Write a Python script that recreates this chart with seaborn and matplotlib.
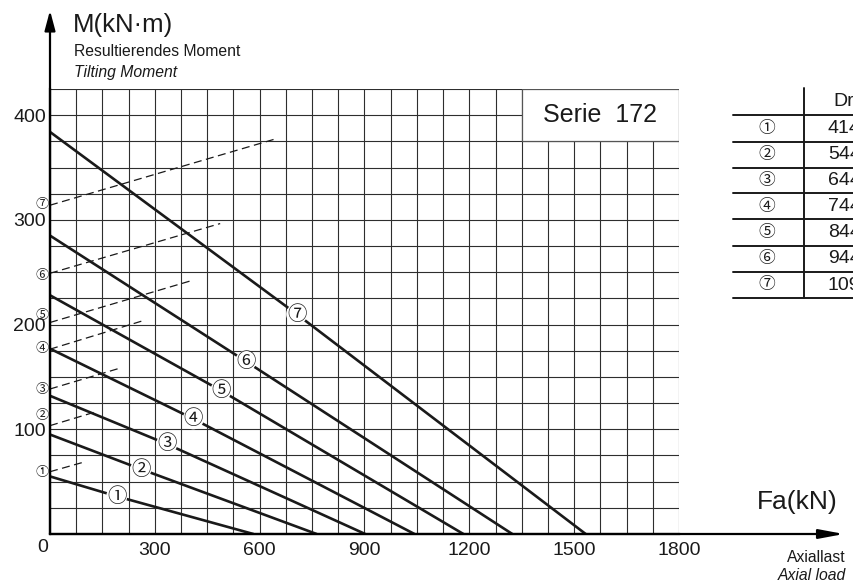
import numpy as np
import pandas as pd
import seaborn as sns
import matplotlib.pyplot as plt
from matplotlib.patches import Rectangle
from matplotlib.lines import Line2D

# ---------------- data ----------------
labels = ['①', '②', '③', '④', '⑤', '⑥', '⑦']
curve_start_y = [55, 95, 132, 177, 228, 285, 384]
curve_mid_x = [191, 260, 334, 410, 489, 560, 706]
curve_mid_y = [36, 62, 86, 110, 137, 165, 210]
curve_end_x = [582, 763, 902, 1043, 1183, 1323, 1533]
dash_start_y = [59.5, 103.5, 138.5, 176.5, 202, 249, 314]
dash_end_x = [95, 134, 196, 269, 410, 487, 647]
dash_end_y = [68.5, 117, 158, 204, 242.5, 296.5, 377.5]
left_label_y = [59, 113, 138, 177, 209, 247, 315]
x_ticks = [300, 600, 900, 1200, 1500, 1800]
y_ticks = [100, 200, 300, 400]
table_header = 'Dr'
table_values = ['414', '544', '644', '744', '844', '944', '1094']

rows = []
for i, lab in enumerate(labels):
    rows.append((lab, 0, curve_start_y[i]))
    rows.append((lab, curve_mid_x[i], curve_mid_y[i]))
    rows.append((lab, curve_end_x[i], 0))
curves = pd.DataFrame(rows, columns=['series', 'x', 'y'])

drows = []
for i, lab in enumerate(labels):
    drows.append((lab, 0, dash_start_y[i]))
    drows.append((lab, dash_end_x[i], dash_end_y[i]))
dashes = pd.DataFrame(drows, columns=['series', 'x', 'y'])

# ---------------- style ----------------
sns.set_style('white')
plt.rcParams['font.family'] = ['Liberation Sans', 'DejaVu Sans', 'Noto Sans CJK JP']
CIRC = ['Noto Sans CJK JP', 'DejaVu Sans']
INK = '#1a1a1a'
GRID = '#2e2e2e'

W, H = 854, 584
fig = plt.figure(figsize=(W / 100, H / 100), dpi=100)
ax = fig.add_axes([50 / W, 50 / H, 629 / W, 445 / H])
ax.set_xlim(0, 1800)
ax.set_ylim(0, 425)

# grid
ax.set_xticks(np.arange(0, 1801, 75), minor=True)
ax.set_yticks(np.arange(0, 426, 25), minor=True)
ax.set_xticks(x_ticks)
ax.set_xticklabels([str(v) for v in x_ticks], fontsize=14, color=INK)
ax.set_yticks(y_ticks)
ax.set_yticklabels([str(v) for v in y_ticks], fontsize=14, color=INK,
                   va='center_baseline')
ax.tick_params(which='both', length=0)
ax.tick_params(axis='x', pad=6)
ax.tick_params(axis='y', pad=3)
ax.grid(which='both', color=GRID, linewidth=0.8)
ax.set_axisbelow(True)
for s in ['top', 'right']:
    ax.spines[s].set_visible(False)
for s in ['left', 'bottom']:
    ax.spines[s].set_linewidth(1.6)
    ax.spines[s].set_color('black')
    ax.spines[s].set_zorder(5)

# Serie box
ax.add_patch(Rectangle((1350, 375), 450, 50, facecolor='white',
                       edgecolor='#555555', linewidth=0.9, zorder=2))
ax.text(1575, 400, 'Serie  172', ha='center', va='center', fontsize=18,
        color=INK, zorder=3)

# curves
sns.lineplot(data=curves, x='x', y='y', units='series', estimator=None,
             sort=False, color=INK, linewidth=1.9, legend=False, ax=ax,
             zorder=3)
sns.lineplot(data=dashes, x='x', y='y', units='series', estimator=None,
             sort=False, color=INK, linewidth=0.9, legend=False, ax=ax,
             linestyle=(0, (6.4, 3.6)), zorder=3)
ax.set_xlabel('')
ax.set_ylabel('')

for i, lab in enumerate(labels):
    ax.text(curve_mid_x[i], curve_mid_y[i], lab, ha='center', va='center',
            fontsize=14, color=INK, zorder=4, family=CIRC,
            bbox=dict(boxstyle='circle,pad=0.0', facecolor='white',
                      edgecolor='none'))
    ax.text(-21, left_label_y[i], lab, ha='center', va='center',
            fontsize=9.5, color=INK, clip_on=False, zorder=4, family=CIRC)

ax.text(-22, -12.5, '0', ha='center', va='center', fontsize=14, color=INK,
        clip_on=False)

# axis arrows
ax.annotate('', xy=(0, 500), xytext=(0, 0),
            arrowprops=dict(arrowstyle='-|>,head_length=1.2,head_width=0.32',
                            color='black', linewidth=1.6, mutation_scale=10,
                            shrinkA=0, shrinkB=0),
            annotation_clip=False, zorder=6)
ax.annotate('', xy=(2272, 0), xytext=(0, 0),
            arrowprops=dict(arrowstyle='-|>,head_length=1.5,head_width=0.28',
                            color='black', linewidth=1.6, mutation_scale=10,
                            shrinkA=0, shrinkB=0),
            annotation_clip=False, zorder=6)

# overlay axes in pixel coordinates for free text & table
ov = fig.add_axes([0, 0, 1, 1], facecolor='none')
ov.set_xlim(0, W)
ov.set_ylim(H, 0)
ov.axis('off')

ov.text(73, 25, 'M(kN·m)', ha='left', va='center', fontsize=18.5, color=INK)
ov.text(74, 52, 'Resultierendes Moment', ha='left', va='center',
        fontsize=11.3, color=INK)
ov.text(74, 72, 'Tilting Moment', ha='left', va='center', fontsize=11.3,
        style='italic', color=INK)
ov.text(838, 502, 'Fa(kN)', ha='right', va='center', fontsize=19, color=INK)
ov.text(846, 557, 'Axiallast', ha='right', va='center', fontsize=11.3,
        color=INK)
ov.text(846, 576, 'Axial load', ha='right', va='center', fontsize=11.3,
        style='italic', color=INK)

# table
row_lines = [115, 141.7, 167.7, 193.3, 219.3, 245.7, 272, 298]
ov.add_line(Line2D([804, 804], [88, 298], color=INK, linewidth=1.4))
for yl in row_lines:
    ov.add_line(Line2D([733, 860], [yl, yl], color=INK, linewidth=1.4))
ov.text(833, 102, table_header, ha='left', va='center', fontsize=14, color=INK)
for i, lab in enumerate(labels):
    yc = (row_lines[i] + row_lines[i + 1]) / 2
    ov.text(767, yc, lab, ha='center', va='center', fontsize=12, color=INK,
            family=CIRC)
    ov.text(828, yc, table_values[i], ha='left', va='center', fontsize=14,
            color=INK)

fig.savefig('out.png', dpi=100)
